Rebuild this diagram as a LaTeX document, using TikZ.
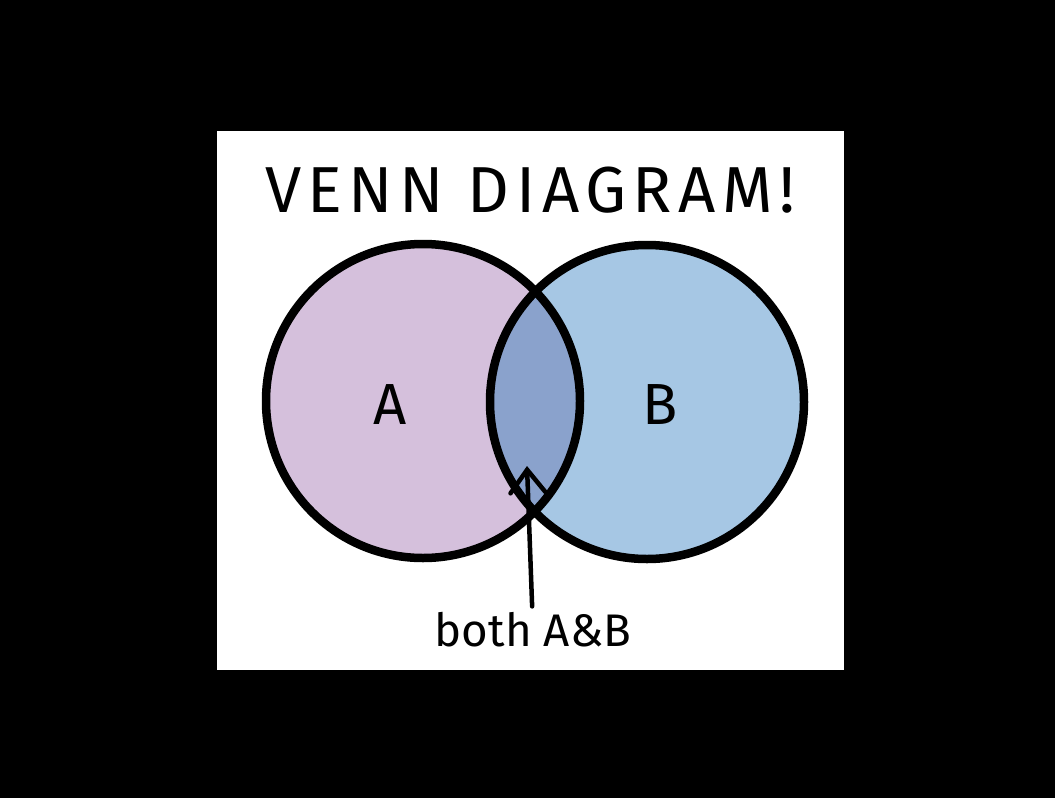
\documentclass[tikz,border=0pt]{standalone}
\usepackage{fontspec}
\setmainfont{Fira Sans}
\newfontfamily\spacedfont[LetterSpace=10]{Fira Sans}
\usetikzlibrary{arrows.meta}
\definecolor{lilac}{RGB}{213,192,220}
\definecolor{skyblue}{RGB}{166,199,228}
\definecolor{overlap}{RGB}{138,162,204}

\begin{document}
\begin{tikzpicture}[
  x=0.02cm, y=-0.02cm,
  ring/.style={draw=black,line width=0.17cm},
  bigletter/.style={font=\fontsize{33}{36}\selectfont},
  heading/.style={font=\spacedfont\fontsize{37}{40}\selectfont},
  note/.style={font=\fontsize{26}{30}\selectfont},
  pointer/.style={-{Straight Barb[length=4.6mm,width=7mm,line cap=round]},line width=0.09cm,line cap=round}
]
  % black frame and white card
  \fill[black] (0,0) rectangle (1055,798);
  \fill[white] (217,131) rectangle (844,670);

  \coordinate (cA) at (423,401);
  \coordinate (cB) at (647,402);

  \fill[lilac] (cA) circle[radius=157];
  \fill[skyblue] (cB) circle[radius=157];
  \begin{scope}
    \clip (cA) circle[radius=157];
    \fill[overlap] (cB) circle[radius=157];
  \end{scope}
  \draw[ring] (cA) circle[radius=157];
  \draw[ring] (cB) circle[radius=157];

  \node[heading] (title) at (530,190) {VENN DIAGRAM!};
  \node[bigletter] (labelA) at (390,405) {A};
  \node[bigletter] (labelB) at (660,405) {B};
  \node[note] (both) at (533,630) {both A\&B};

  \coordinate (tip) at (527,466);
  \draw[pointer] (both) -- (tip);
\end{tikzpicture}
\end{document}
